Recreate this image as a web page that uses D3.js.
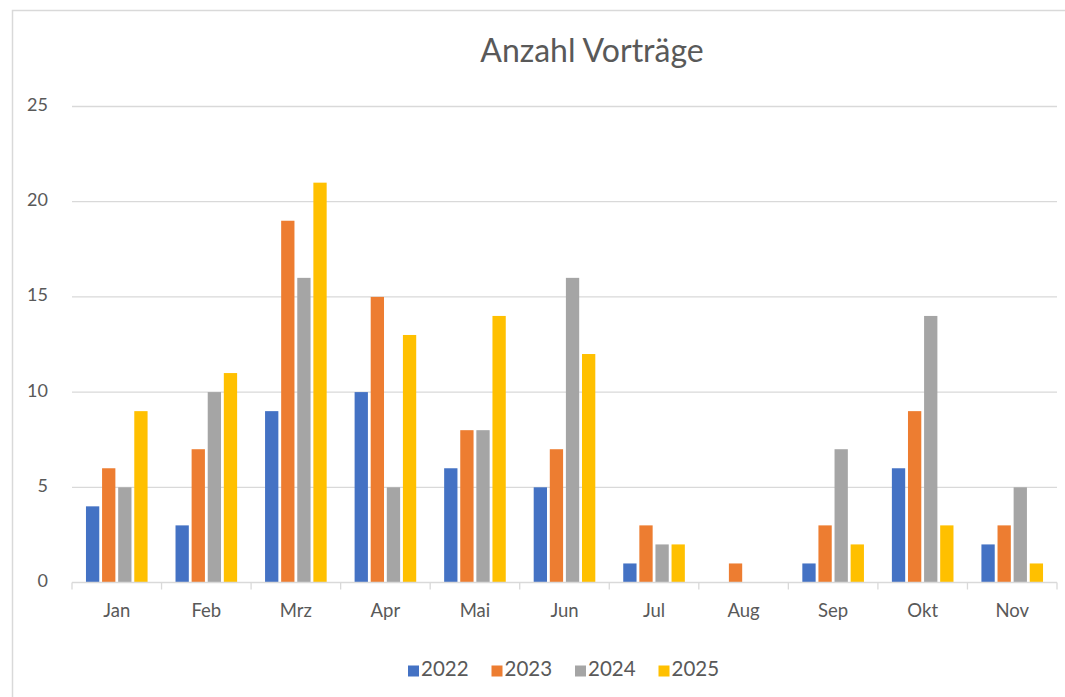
<!DOCTYPE html>
<html>
<head>
<meta charset="utf-8">
<script src="https://cdn.jsdelivr.net/npm/d3@7"></script>
<style>
  body { margin: 0; background: #fff; }
  text { font-family: Lato, "Open Sans", sans-serif; fill: #595959; }
</style>
</head>
<body>
<script>
const months = ["Jan", "Feb", "Mrz", "Apr", "Mai", "Jun", "Jul", "Aug", "Sep", "Okt", "Nov"];
const years = ["2022", "2023", "2024", "2025"];
const colors = ["#4472C4", "#ED7D31", "#A5A5A5", "#FFC000"];
const v2022 = [4, 3, 9, 10, 6, 5, 1, 0, 1, 6, 2];
const v2023 = [6, 7, 19, 15, 8, 7, 3, 1, 3, 9, 3];
const v2024 = [5, 10, 16, 5, 8, 16, 2, 0, 7, 14, 5];
const v2025 = [9, 11, 21, 13, 14, 12, 2, 0, 2, 3, 1];
const yTicks = [0, 5, 10, 15, 20, 25];

const series = [v2022, v2023, v2024, v2025];
const rows = months.map((m, i) => ({
  month: m,
  values: years.map((y, j) => ({ year: y, value: series[j][i] }))
}));

const W = 1065, H = 697;
const svg = d3.select("body").append("svg").attr("width", W).attr("height", H);

// chart frame
svg.append("rect")
  .attr("x", 12.5).attr("y", 10.5)
  .attr("width", 1100).attr("height", 700)
  .attr("fill", "#fff").attr("stroke", "#d9d9d9").attr("stroke-width", 1.5);

const x0 = d3.scaleBand().domain(months).range([72, 1057])
  .paddingInner(0.312).paddingOuter(0.156);
const x1 = d3.scaleBand().domain(years).range([0, x0.bandwidth()]).paddingInner(0.174);
const y = d3.scaleLinear().domain([0, 25]).range([582.5, 106.5]);

// gridlines
svg.append("g").selectAll("line").data(yTicks.slice(1)).join("line")
  .attr("x1", 72).attr("x2", 1057)
  .attr("y1", (d) => y(d)).attr("y2", (d) => y(d))
  .attr("stroke", "#d9d9d9").attr("stroke-width", 1.3);

// y labels
svg.append("g").selectAll("text").data(yTicks).join("text")
  .attr("x", 48).attr("y", (d) => y(d))
  .attr("text-anchor", "end").attr("dominant-baseline", "middle")
  .attr("font-size", 18)
  .text((d) => d);

// bars
const groups = svg.append("g").selectAll("g").data(rows).join("g")
  .attr("transform", (d) => `translate(${x0(d.month)},0)`);
groups.selectAll("rect").data((d) => d.values).join("rect")
  .attr("x", (d) => x1(d.year))
  .attr("width", x1.bandwidth())
  .attr("y", (d) => y(d.value))
  .attr("height", (d) => y(0) - y(d.value))
  .attr("fill", (d, i) => colors[i]);

// x axis line and ticks
const step = x0.step();
svg.append("line")
  .attr("x1", 72).attr("x2", 1057).attr("y1", y(0)).attr("y2", y(0))
  .attr("stroke", "#d9d9d9").attr("stroke-width", 1.3);
svg.append("g").selectAll("line").data(d3.range(months.length + 1)).join("line")
  .attr("x1", (i) => 72 + i * step).attr("x2", (i) => 72 + i * step)
  .attr("y1", y(0)).attr("y2", y(0) + 7)
  .attr("stroke", "#d9d9d9").attr("stroke-width", 1.3);

svg.append("g").selectAll("text").data(months).join("text")
  .attr("x", (d) => x0(d) + x0.bandwidth() / 2)
  .attr("y", 612)
  .attr("text-anchor", "middle").attr("dominant-baseline", "middle")
  .attr("font-size", 18.5)
  .text((d) => d);

// title
svg.append("text")
  .attr("x", 592).attr("y", 54)
  .attr("text-anchor", "middle").attr("dominant-baseline", "middle")
  .attr("font-size", 32)
  .text("Anzahl Vorträge");

// legend
const legend = svg.append("g").selectAll("g").data(years).join("g")
  .attr("transform", (d, i) => `translate(${408 + i * 83.5},671)`);
legend.append("rect")
  .attr("x", 0).attr("y", -5.5).attr("width", 11).attr("height", 11)
  .attr("fill", (d, i) => colors[i]);
legend.append("text")
  .attr("x", 13).attr("y", 0)
  .attr("dominant-baseline", "middle")
  .attr("font-size", 20.5)
  .text((d) => d);
</script>
</body>
</html>
